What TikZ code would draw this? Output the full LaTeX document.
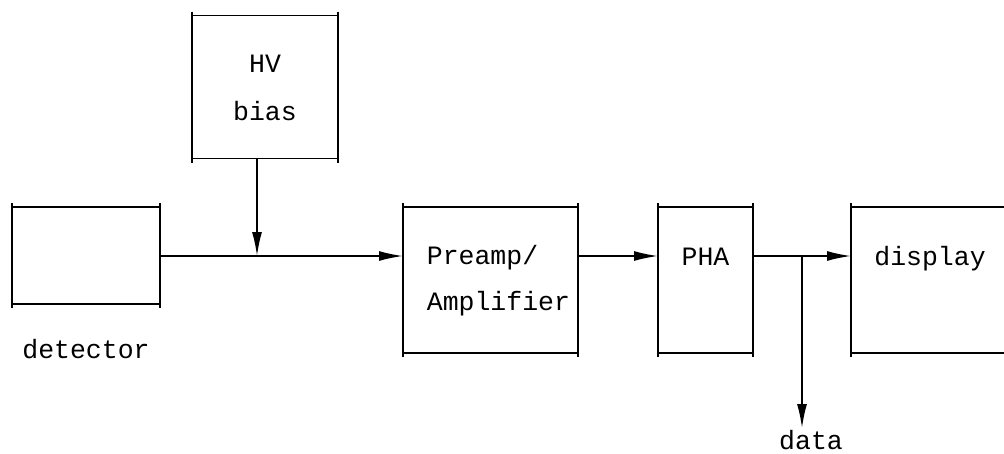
\documentclass[tikz,border=0pt]{standalone}
\usepackage{fontspec}
\newfontfamily\plotfont{Liberation Mono}
\usetikzlibrary{arrows.meta}
\begin{document}
\begin{tikzpicture}[x=1pt,y=-1pt, line width=1.7pt,
  box/.style={draw, rectangle, inner sep=0pt, outer sep=0pt},
  lbl/.style={font=\fontsize{26.5}{45}\selectfont\plotfont, inner sep=0pt},
  sig/.style={-{Latex[length=24pt,width=10pt]}}]
\useasboundingbox (0,0) rectangle (1004,453);
\clip (0,0) rectangle (1004,453);
% boxes
\node[box, minimum width=148pt, minimum height=97pt] (det) at (86,255.5) {};
\node[box, minimum width=146pt, minimum height=143pt] (hv) at (265,87) {};
\node[box, minimum width=175pt, minimum height=146pt] (pre) at (490.5,280) {};
\node[box, minimum width=95pt, minimum height=146pt] (pha) at (705.5,280) {};
\node[box, minimum width=200pt, minimum height=146pt] (disp) at (951,280) {};
% corner overhangs of the vertical sides
\foreach \n in {det,hv,pre,pha,disp}{
  \draw ([yshift=4pt]\n.north west) -- ([yshift=-4pt]\n.south west);
  \draw ([yshift=4pt]\n.north east) -- ([yshift=-4pt]\n.south east);
}
% labels
\node[lbl, anchor=base] (hvt) at (265,72) {HV};
\node[lbl, anchor=base] (biast) at (265,120) {bias};
\node[lbl, anchor=base] (dett) at (86,358) {detector};
\node[lbl, anchor=base west] (pret) at (426,264) {Preamp/};
\node[lbl, anchor=base west] (ampt) at (426,310) {Amplifier};
\node[lbl, anchor=base] (phat) at (705.5,265) {PHA};
\node[lbl, anchor=base] (dispt) at (930,265) {display};
\node[lbl, anchor=base] (datat) at (811,449) {data};
% connectors
\coordinate (j) at (257,256);
\coordinate (br) at (802,256);
\coordinate (dataend) at (802,428);
\draw[sig] (det.east |- j) -- (pre.west |- j);
\draw[sig] (hv.south -| j) -- (j);
\draw[sig] (pre.east |- j) -- (pha.west |- j);
\draw[sig] (pha.east |- j) -- (disp.west |- j);
\draw[sig] (br) -- (dataend);
\end{tikzpicture}
\end{document}
